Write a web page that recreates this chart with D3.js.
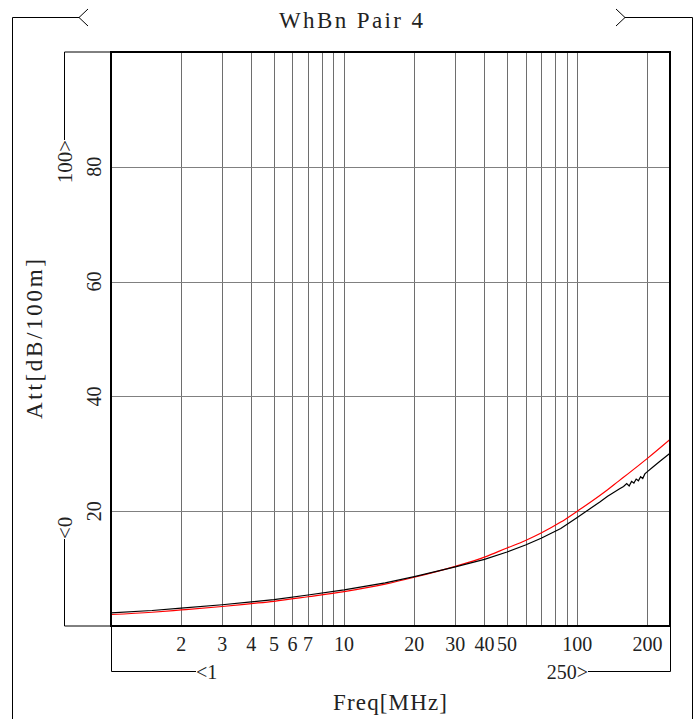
<!DOCTYPE html>
<html>
<head>
<meta charset="utf-8">
<script src="https://cdn.jsdelivr.net/npm/d3@7"></script>
<style>
  body { margin: 0; background: #fff; }
  svg { display: block; }
  text { font-family: "Liberation Serif", "DejaVu Serif", serif; fill: #222; }
</style>
</head>
<body>
<div id="chart"></div>
<script>
// ranges shown in the bracket markers
var xRange = [1, 250];
var yRange = [0, 100];

// tick labels and grid
var freqTicks = [2, 3, 4, 5, 6, 7, 10, 20, 30, 40, 50, 100, 200];
var freqGrid = [2, 3, 4, 5, 6, 7, 8, 9, 10, 20, 30, 40, 50, 60, 70, 80, 90, 100, 200];
var attTicks = [20, 40, 60, 80];

// red curve (limit / fit)
var redFreq = [1, 1.5, 2, 3, 4, 5, 7, 10, 15, 20, 30, 40, 50, 60, 70, 85, 100, 115, 125, 135, 150, 165, 200, 250];
var redAtt  = [2.0, 2.4, 2.8, 3.4, 3.9, 4.3, 5.1, 6.0, 7.3, 8.5, 10.4, 12.0, 13.6, 14.9, 16.2, 18.1, 20.0, 21.7, 22.75, 23.75, 25.2, 26.5, 29.2, 32.5];

// black curve (measured)
var blackFreq = [1, 1.5, 2, 3, 4, 5, 7, 10, 15, 20, 30, 40, 50, 60, 70, 85, 100, 115, 125, 135, 145, 152, 158, 163, 167, 171, 175, 179, 183, 187, 191, 195, 200, 210, 225, 250];
var blackAtt  = [2.3, 2.7, 3.1, 3.7, 4.2, 4.6, 5.4, 6.3, 7.5, 8.6, 10.3, 11.6, 12.9, 14.1, 15.3, 17.0, 18.9, 20.6, 21.6, 22.6, 23.4, 23.9, 24.3, 24.8, 24.4, 25.2, 24.9, 25.6, 25.3, 26.0, 25.7, 26.5, 26.9, 27.6, 28.6, 30.1];

var W = 700, H = 719;
var margin = { top: 52, right: 30, bottom: 93, left: 111 };
var x0 = margin.left, x1 = W - margin.right, y0 = H - margin.bottom, y1 = margin.top;

var x = d3.scaleLog().domain(xRange).range([x0, x1]);
var y = d3.scaleLinear().domain(yRange).range([y0, y1]);

var svg = d3.select("#chart").append("svg")
    .attr("width", W)
    .attr("height", H);

// outer frame with chevrons
var frame = svg.append("g").attr("fill", "none").attr("stroke", "#000").attr("stroke-width", 1);
frame.append("path").attr("d", "M12.5,719 V17.5 H79 M88,9 L79,17.5 L88,26");
frame.append("path").attr("d", "M692.5,719 V17.5 H625 M616,9 L625,17.5 L616,26");

// Chart Title
svg.append("text")
    .attr("x", 351)
    .attr("y", 28)
    .attr("text-anchor", "middle")
    .attr("textLength", 144)
    .attr("lengthAdjust", "spacing")
    .style("font-size", "23px")
    .text("WhBn Pair 4");

// grid
svg.append("g")
    .selectAll("line")
    .data(freqGrid)
    .join("line")
    .attr("x1", function(d) { return Math.round(x(d)) + 0.5; })
    .attr("x2", function(d) { return Math.round(x(d)) + 0.5; })
    .attr("y1", y1)
    .attr("y2", y0)
    .attr("stroke", "#6e6e6e")
    .attr("stroke-width", 1);

svg.append("g")
    .selectAll("line")
    .data(attTicks)
    .join("line")
    .attr("x1", x0)
    .attr("x2", x1)
    .attr("y1", function(d) { return Math.round(y(d)) + 0.5; })
    .attr("y2", function(d) { return Math.round(y(d)) + 0.5; })
    .attr("stroke", "#808080")
    .attr("stroke-width", 1);

// x tick labels
svg.append("g")
    .selectAll("text")
    .data(freqTicks)
    .join("text")
    .attr("x", function(d) { return x(d); })
    .attr("y", 651)
    .attr("text-anchor", "middle")
    .style("font-size", "20px")
    .text(function(d) { return d; });

// y tick labels (rotated)
svg.append("g")
    .selectAll("text")
    .data(attTicks)
    .join("text")
    .attr("transform", function(d) { return "translate(101," + y(d) + ")rotate(-90)"; })
    .attr("text-anchor", "middle")
    .style("font-size", "20px")
    .text(function(d) { return d; });

// range brackets
var br = svg.append("g").attr("fill", "none").attr("stroke", "#000").attr("stroke-width", 1);
br.append("path").attr("d", "M" + x0 + "," + y1 + " H64.5 V140");
br.append("path").attr("d", "M" + x0 + "," + y0 + " H64.5 V539");
br.append("path").attr("d", "M" + (x0 + 0.5) + "," + y0 + " V671.5 H196");
br.append("path").attr("d", "M" + (x1 + 0.5) + "," + y0 + " V671.5 H588");

svg.append("text")
    .attr("transform", "translate(72,140)rotate(-90)")
    .attr("text-anchor", "end")
    .style("font-size", "21px")
    .text(yRange[1] + ">");
svg.append("text")
    .attr("transform", "translate(72,539)rotate(-90)")
    .attr("text-anchor", "start")
    .style("font-size", "21px")
    .text("<" + yRange[0]);
svg.append("text")
    .attr("x", 196)
    .attr("y", 679)
    .style("font-size", "20px")
    .text("<" + xRange[0]);
svg.append("text")
    .attr("x", 588)
    .attr("y", 679)
    .attr("text-anchor", "end")
    .style("font-size", "20px")
    .text(xRange[1] + ">");

// Labels
svg.append("text")
    .attr("x", 390)
    .attr("y", 710)
    .attr("text-anchor", "middle")
    .attr("textLength", 114)
    .attr("lengthAdjust", "spacing")
    .style("font-size", "23px")
    .text("Freq[MHz]");

svg.append("text")
    .attr("transform", "translate(42," + ((y0 + y1) / 2) + ")rotate(-90)")
    .attr("text-anchor", "middle")
    .attr("textLength", 160)
    .attr("lengthAdjust", "spacing")
    .style("font-size", "23px")
    .text("Att[dB/100m]");

// Data Lines
svg.append("clipPath").attr("id", "clip")
    .append("rect").attr("x", x0).attr("y", y1).attr("width", x1 - x0).attr("height", y0 - y1);

var smooth = d3.line()
    .x(function(d) { return x(d[0]); })
    .y(function(d) { return y(d[1]); })
    .curve(d3.curveMonotoneX);

var straight = d3.line()
    .x(function(d) { return x(d[0]); })
    .y(function(d) { return y(d[1]); });

svg.append("path")
    .datum(d3.zip(redFreq, redAtt))
    .attr("clip-path", "url(#clip)")
    .attr("fill", "none")
    .attr("stroke", "#ff0000")
    .attr("stroke-width", 1.2)
    .attr("d", smooth);

svg.append("path")
    .datum(d3.zip(blackFreq, blackAtt))
    .attr("clip-path", "url(#clip)")
    .attr("fill", "none")
    .attr("stroke", "#000")
    .attr("stroke-width", 1.2)
    .attr("d", straight);

// plot border
svg.append("rect")
    .attr("x", x0)
    .attr("y", y1)
    .attr("width", x1 - x0)
    .attr("height", y0 - y1)
    .attr("fill", "none")
    .attr("stroke", "#000")
    .attr("stroke-width", 2);
</script>
</body>
</html>
